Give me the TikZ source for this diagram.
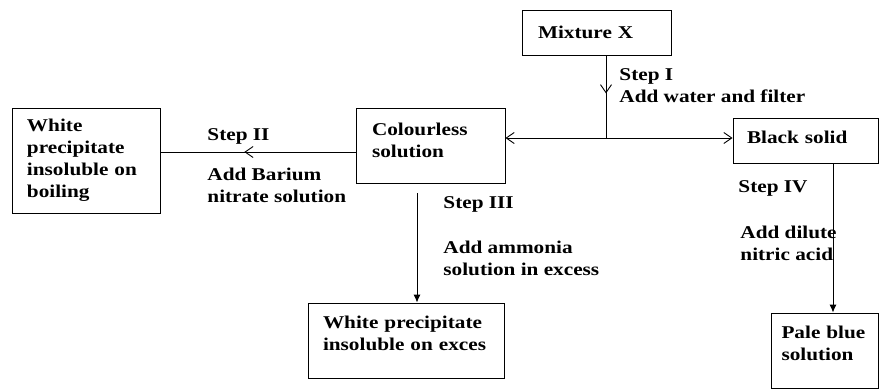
\documentclass[tikz,border=0pt]{standalone}
\usepackage{fontspec}
\setmainfont{Liberation Serif}[FakeStretch=1.18]
\usetikzlibrary{arrows.meta, decorations.markings}

\begin{document}
\begin{tikzpicture}[x=1pt, y=-1pt, line width=0.9pt,
  every node/.style={font=\bfseries\fontsize{18}{22}\selectfont},
  box/.style={draw, align=left, inner ysep=0pt},
  lbl/.style={anchor=north west, align=left, inner sep=0pt},
  opentip/.style={{Straight Barb[length=8pt, width=11pt]}-{Straight Barb[length=8pt, width=11pt]}},
  filltip/.style={-{Latex[length=8pt, width=7pt]}},
  midtip/.style={postaction={decorate}, decoration={markings,
    mark=at position #1 with {\arrow{Straight Barb[length=8pt, width=11pt]}}}}];

\useasboundingbox (0, 0) rectangle (895, 389);

\node (mix)    at (596.5, 32.5)  [box, inner xsep=16pt, text width=117pt, minimum height=45pt] {Mixture X};
\node (colour) at (430.5, 145.5) [box, inner xsep=16pt, text width=117pt, minimum height=75pt] {Colourless\\solution\\[-11pt]\mbox{}};
\node (wpb)    at (86, 160.5)    [box, inner xsep=15pt, text width=118pt, minimum height=105pt] {White\\precipitate\\insoluble on\\boiling};
\node (black)  at (805.5, 140.5) [box, inner xsep=14pt, text width=117pt, minimum height=45pt] {Black solid\\[-15pt]\mbox{}};
\node (wpe)    at (406, 340.5)   [box, inner xsep=15pt, text width=166pt, minimum height=75pt] {White precipitate\\insoluble on exces\\[-7pt]\mbox{}};
\node (pale)   at (824.5, 350.5) [box, inner xsep=10.5pt, text width=86pt, minimum height=75pt] {Pale blue\\solution\\[-7pt]\mbox{}};

\node (step1) at (619, 68)  [lbl] {Step I\\Add water and filter};
\node (step2) at (207, 128) [lbl] {Step II};
\node (cond2) at (207, 168) [lbl] {Add Barium\\nitrate solution};
\node (step3) at (443, 196) [lbl] {Step III};
\node (cond3) at (443, 241) [lbl] {Add ammonia\\solution in excess};
\node (step4) at (738, 180) [lbl] {Step IV};
\node (cond4) at (740, 226) [lbl] {Add dilute\\nitric acid};

\coordinate (split) at (606, 138);
\coordinate (c2) at ([yshift=-6.5pt]colour.west);
\coordinate (c3) at ([xshift=-13.5pt]colour.south);
\coordinate (c4) at ([xshift=27.5pt]black.south);

\draw[midtip=0.46] (mix.south -| split) -- (split);
\draw[opentip] (split -| colour.east) -- (split -| black.west);
\draw[midtip=0.57] (c2) -- (c2 -| wpb.east);
\draw[filltip, shorten <=10pt] (c3) -- (c3 |- wpe.north);
\draw[filltip] (c4) -- (c4 |- pale.north);

\end{tikzpicture}
\end{document}
